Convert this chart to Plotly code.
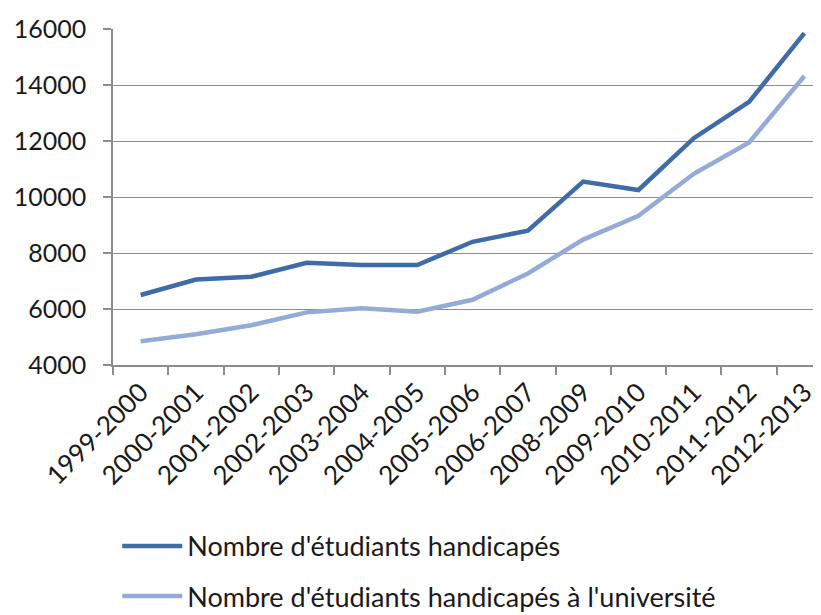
import plotly.graph_objects as go

categories = ["1999-2000", "2000-2001", "2001-2002", "2002-2003", "2003-2004",
              "2004-2005", "2005-2006", "2006-2007", "2008-2009", "2009-2010",
              "2010-2011", "2011-2012", "2012-2013"]
etudiants_handicapes = [6500, 7050, 7150, 7650, 7570, 7570, 8400, 8800,
                        10550, 10250, 12100, 13400, 15850]
etudiants_universite = [4850, 5100, 5420, 5880, 6030, 5900, 6330, 7270,
                        8480, 9330, 10830, 11950, 14320]
name_1 = "Nombre d'étudiants handicapés"
name_2 = "Nombre d'étudiants handicapés à l'université"

font_family = "Lato, Open Sans, sans-serif"
grid_col = "#8c8c8c"

fig = go.Figure()
fig.add_trace(go.Scatter(x=categories, y=etudiants_handicapes, mode="lines",
                         name=name_1, legendgroup="a",
                         line=dict(color="#3f6ca8", width=4.5)))
fig.add_trace(go.Scatter(x=categories, y=etudiants_universite, mode="lines",
                         name=name_2, legendgroup="b",
                         line=dict(color="#93abd6", width=4.5)))

# page body has an 8px margin, so the figure is 813x607 and offset by 8px
fig.update_layout(
    width=813, height=607,
    margin=dict(l=105, r=0, t=21, b=250, autoexpand=False),
    plot_bgcolor="white", paper_bgcolor="white",
    font=dict(family=font_family, size=24, color="#1a1a1a"),
    showlegend=True,
    legend=dict(orientation="v", x=0.006, xref="paper", y=-0.467, yanchor="top",
                font=dict(size=27), traceorder="grouped", tracegroupgap=12,
                itemwidth=60, bgcolor="rgba(0,0,0,0)"),
)
fig.update_xaxes(type="category", range=[-0.5, 12.3], showgrid=False,
                 automargin=False,
                 showline=True, linecolor=grid_col, linewidth=1.5,
                 ticks="outside", tickson="boundaries", ticklen=8,
                 tickcolor=grid_col, tickwidth=1.5, tickangle=-45,
                 tickfont=dict(size=26))
fig.update_yaxes(range=[4000, 16000], dtick=2000, tickformat="d",
                 automargin=False, showgrid=True,
                 gridcolor=grid_col, gridwidth=1.2,
                 showline=True, linecolor=grid_col, linewidth=1.5,
                 ticks="outside", ticklen=8, tickcolor=grid_col, tickwidth=1.5,
                 ticklabelstandoff=12,
                 tickfont=dict(size=25), zeroline=False)

fig.write_html("out.html")
